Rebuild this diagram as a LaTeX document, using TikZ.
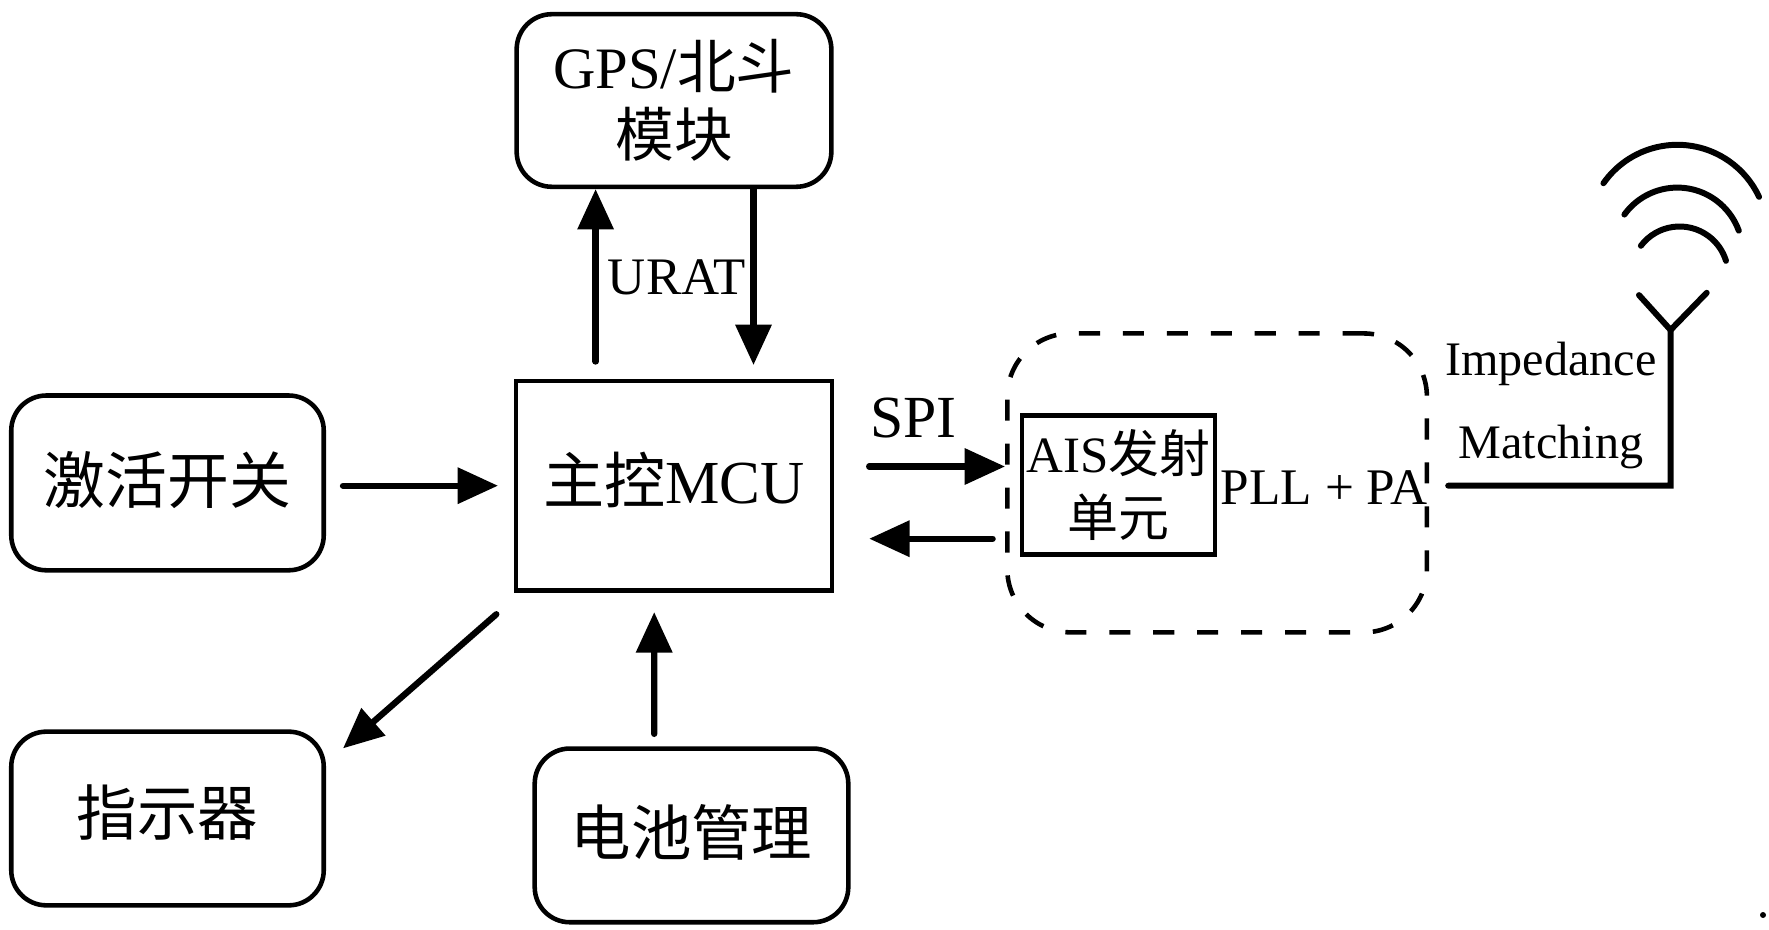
\documentclass[tikz,border=0pt]{standalone}
\usepackage{fontspec}
\setmainfont{Liberation Serif}
\newfontfamily\cjk{Noto Sans CJK SC}
\usetikzlibrary{arrows.meta,calc}
\tikzset{
  blockbox/.style={draw, line width=1.3pt, rounded corners=10pt, align=center, inner sep=1pt, font=\fontsize{17.2}{19.3}\selectfont},
  mcubox/.style={draw, line width=1.3pt, align=center, inner sep=1pt, font=\fontsize{17.4}{20}\selectfont},
  txbox/.style={draw, line width=1.3pt, rounded corners=18pt, dash pattern=on 6pt off 6.5pt},
  aisbox/.style={draw, line width=1.3pt, align=center, inner sep=0.5pt, font=\fontsize{14.5}{18.3}\selectfont},
  arr/.style={line width=1.8pt, line cap=round, -{Triangle[length=11.5pt,width=10pt]}},
  ant/.style={line width=1.7pt, line cap=round},
}

\begin{document}
\begin{tikzpicture}%
\useasboundingbox (0,0) rectangle (17.69,9.29);%
% blocks
\node[blockbox, minimum width=3.147cm, minimum height=1.726cm, font=\fontsize{16.7}{19.5}\selectfont] (gps) at (6.74,8.285) {GPS/{\cjk 北斗}\\{\cjk 模块}};%
\node[blockbox, minimum width=3.125cm, minimum height=1.748cm, font=\fontsize{17.6}{20}\selectfont, text depth=0.3em] (act) at (1.675,4.461) {\cjk 激活开关};%
\node[mcubox, minimum width=3.158cm, minimum height=2.098cm, text depth=0.45em] (mcu) at (6.74,4.433) {{\cjk 主控}MCU};%
\node[blockbox, minimum width=3.125cm, minimum height=1.737cm, text depth=0.5em] (ind) at (1.675,1.105) {\cjk 指示器};%
\node[blockbox, minimum width=3.136cm, minimum height=1.737cm, text depth=0.3em] (bat) at (6.915,0.936) {\cjk 电池管理};%
\node[txbox, minimum width=4.196cm, minimum height=2.989cm] (tx) at (12.171,4.461) {};%
\node[aisbox, minimum width=1.929cm, minimum height=1.387cm] (ais) at (11.184,4.439) {AIS{\cjk 发射}\\{\cjk 单元}};%
% labels
\node[font=\fontsize{14.6}{16}\selectfont] (pll) at (13.243,4.410) {PLL + PA};%
\node[font=\fontsize{17}{19}\selectfont] (spi) at (9.137,5.110) {SPI};%
\node[font=\fontsize{15}{17}\selectfont] (urat) at (6.768,6.520) {URAT};%
\node[font=\fontsize{13.7}{15}\selectfont] (imp) at (15.51,5.65) {Impedance};%
\node[font=\fontsize{13.7}{15}\selectfont] (match) at (15.51,4.82) {Matching};%
% connectors
\draw[arr] ($(mcu.north)+(-0.784,0.17)$) -- ($(gps.south)+(-0.784,0)$);%
\draw[arr] ($(gps.south)+(0.795,0)$) -- ($(mcu.north)+(0.795,0.135)$);%
\draw[arr] ($(act.east |- mcu.west)+(0.17,0)$) -- ($(mcu.west)+(-0.158,0)$);%
\draw[arr] ($(mcu.east)+(0.35,0.192)$) -- ($(tx.west |- mcu.east)+(0,0.192)$);%
\draw[arr] ($(tx.west |- mcu.east)+(-0.124,-0.53)$) -- ($(mcu.east)+(0.35,-0.53)$);%
\draw[arr] ($(mcu.south west)+(-0.175,-0.214)$) -- ($(ind.north east)+(0.17,-0.19)$);%
\draw[arr] ($(bat.north)+(-0.373,0.124)$) -- ($(mcu.south)+(-0.198,-0.192)$);%
% antenna
\coordinate (corner) at (16.706,4.433);%
\coordinate (yj) at (16.706,5.990);%
\draw[ant] ($(tx.east)+(0.19,-0.028)$) -- (corner) -- (yj);%
\draw[ant] (16.390,6.339) -- (yj) -- (17.067,6.362);%
\draw[ant] (16.773,6.94) ++(145:0.902) arc[start angle=145, end angle=25, radius=0.902];%
\draw[ant] (16.773,6.76) ++(144:0.654) arc[start angle=144, end angle=20, radius=0.654];%
\draw[ant] (16.796,6.54) ++(143:0.485) arc[start angle=143, end angle=17, radius=0.485];%
\fill (17.63,0.14) circle (0.03);%
\end{tikzpicture}
\end{document}
